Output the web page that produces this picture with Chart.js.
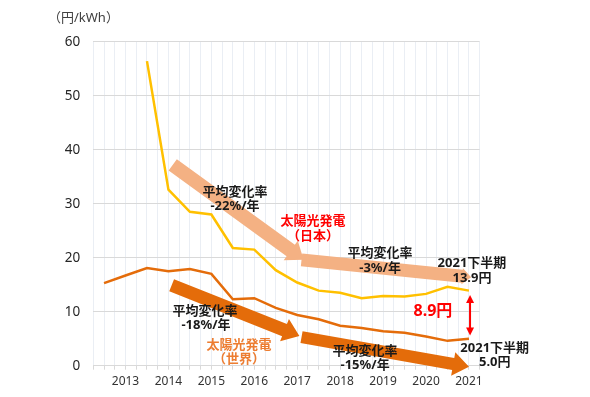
<!DOCTYPE html>
<html>
<head>
<meta charset="utf-8">
<script src="https://cdn.jsdelivr.net/npm/chart.js@4"></script>
<style>
  body { margin: 0; background: #fff; }
</style>
</head>
<body>
<canvas id="chart" width="590" height="397"></canvas>
<script>
// half-year periods, 2013 first half .. 2021 second half
const periods = [
  "2013上", "2013下", "2014上", "2014下", "2015上", "2015下",
  "2016上", "2016下", "2017上", "2017下", "2018上", "2018下",
  "2019上", "2019下", "2020上", "2020下", "2021上", "2021下"
];
// year label is shown under the second-half point
const tickLabels = [
  "", "2013", "", "2014", "", "2015", "", "2016", "", "2017",
  "", "2018", "", "2019", "", "2020", "", "2021"
];
const yTicks = [0, 10, 20, 30, 40, 50, 60];

// 円/kWh
const japan = [
  null, null, 56.4, 32.6, 28.5, 28.0, 21.8, 21.5, 17.7, 15.4,
  13.9, 13.5, 12.5, 12.9, 12.8, 13.3, 14.6, 13.9
];
const world = [
  15.3, 16.7, 18.1, 17.5, 17.9, 17.0, 12.3, 12.5, 10.7, 9.4,
  8.6, 7.4, 7.0, 6.4, 6.1, 5.4, 4.6, 5.0
];

// annotation arrows, in axis units (x = period index, y = 円/kWh)
const trendArrows = [
  { from: [3.2, 37.2], to: [9.3, 19.6], color: "#F4B183", w: 14, hw: 24, hl: 16 },
  { from: [9.2, 19.6], to: [17.1, 16.4], color: "#F4B183", w: 13, hw: 16, hl: 9 },
  { from: [3.15, 14.9], to: [9.1, 5.5], color: "#E46C0A", w: 13, hw: 24, hl: 16 },
  { from: [9.2, 5.3], to: [17.0, -0.2], color: "#E46C0A", w: 12, hw: 24, hl: 16 }
];
const gapArrow = { x: 17.05, from: 13.1, to: 5.6 };

const notes = [
  { x: 6.1, y: 32.2, text: "平均変化率", color: "#1a1a1a" },
  { x: 6.1, y: 29.5, text: "-22%/年", color: "#1a1a1a" },
  { x: 9.73, y: 26.7, text: "太陽光発電", color: "#FF0000" },
  { x: 9.73, y: 24.0, text: "（日本）", color: "#FF0000" },
  { x: 12.86, y: 20.8, text: "平均変化率", color: "#1a1a1a" },
  { x: 12.86, y: 18.0, text: "-3%/年", color: "#1a1a1a" },
  { x: 17.14, y: 19.0, text: "2021下半期", color: "#1a1a1a" },
  { x: 17.14, y: 16.2, text: "13.9円", color: "#1a1a1a" },
  { x: 15.32, y: 10.0, text: "8.9円", color: "#FF0000", size: 16 },
  { x: 4.7, y: 10.0, text: "平均変化率", color: "#1a1a1a" },
  { x: 4.75, y: 7.4, text: "-18%/年", color: "#1a1a1a" },
  { x: 6.29, y: 3.7, text: "太陽光発電", color: "#ED7D31" },
  { x: 6.29, y: 1.2, text: "（世界）", color: "#ED7D31" },
  { x: 12.16, y: 2.6, text: "平均変化率", color: "#1a1a1a" },
  { x: 12.16, y: 0.1, text: "-15%/年", color: "#1a1a1a" },
  { x: 18.2, y: 3.3, text: "2021下半期", color: "#1a1a1a" },
  { x: 18.2, y: 0.7, text: "5.0円", color: "#1a1a1a" }
];

const jpFont = '"Noto Sans", "Noto Sans CJK JP", sans-serif';

function blockArrow(ctx, x1, y1, x2, y2, w, hw, hl, color) {
  const len = Math.hypot(x2 - x1, y2 - y1);
  const ux = (x2 - x1) / len, uy = (y2 - y1) / len;
  const px = -uy, py = ux;
  const bx = x2 - ux * hl, by = y2 - uy * hl;
  ctx.beginPath();
  ctx.moveTo(x1 + px * w / 2, y1 + py * w / 2);
  ctx.lineTo(bx + px * w / 2, by + py * w / 2);
  ctx.lineTo(bx + px * hw / 2, by + py * hw / 2);
  ctx.lineTo(x2, y2);
  ctx.lineTo(bx - px * hw / 2, by - py * hw / 2);
  ctx.lineTo(bx - px * w / 2, by - py * w / 2);
  ctx.lineTo(x1 - px * w / 2, y1 - py * w / 2);
  ctx.closePath();
  ctx.fillStyle = color;
  ctx.fill();
}

const annotations = {
  id: "annotations",
  beforeDatasetsDraw(chart) {
    const { ctx, scales: { x, y } } = chart;
    ctx.save();
    trendArrows.forEach((a) => {
      blockArrow(ctx,
        x.getPixelForValue(a.from[0]), y.getPixelForValue(a.from[1]),
        x.getPixelForValue(a.to[0]), y.getPixelForValue(a.to[1]),
        a.w, a.hw, a.hl, a.color);
    });
    ctx.restore();
  },
  afterDatasetsDraw(chart) {
    const { ctx, scales: { x, y } } = chart;
    ctx.save();
    // red gap arrow
    const gx = x.getPixelForValue(gapArrow.x);
    const gy1 = y.getPixelForValue(gapArrow.from);
    const gy2 = y.getPixelForValue(gapArrow.to);
    ctx.strokeStyle = "#FF0000";
    ctx.fillStyle = "#FF0000";
    ctx.lineWidth = 2;
    ctx.beginPath();
    ctx.moveTo(gx, gy1 + 6);
    ctx.lineTo(gx, gy2 - 6);
    ctx.stroke();
    ctx.beginPath();
    ctx.moveTo(gx, gy1);
    ctx.lineTo(gx - 4, gy1 + 8);
    ctx.lineTo(gx + 4, gy1 + 8);
    ctx.closePath();
    ctx.fill();
    ctx.beginPath();
    ctx.moveTo(gx, gy2);
    ctx.lineTo(gx - 4, gy2 - 8);
    ctx.lineTo(gx + 4, gy2 - 8);
    ctx.closePath();
    ctx.fill();

    ctx.textAlign = "center";
    ctx.textBaseline = "middle";
    notes.forEach((n) => {
      ctx.font = "bold " + (n.size || 13) + "px " + jpFont;
      ctx.fillStyle = n.color;
      ctx.fillText(n.text, x.getPixelForValue(n.x), y.getPixelForValue(n.y));
    });
    ctx.restore();
  }
};

new Chart(document.getElementById("chart"), {
  type: "line",
  data: {
    datasets: [
      {
        label: "太陽光発電（日本）",
        data: japan.map((v, i) => ({ x: i, y: v })),
        borderColor: "#FFC000",
        borderWidth: 2.5,
        pointRadius: 0,
        tension: 0,
        spanGaps: false
      },
      {
        label: "太陽光発電（世界）",
        data: world.map((v, i) => ({ x: i, y: v })),
        borderColor: "#E46C0A",
        borderWidth: 2.5,
        pointRadius: 0,
        tension: 0
      }
    ]
  },
  options: {
    responsive: false,
    animation: false,
    devicePixelRatio: 1,
    layout: { padding: { left: 48, right: 110.3, top: 0, bottom: 0 } },
    plugins: {
      legend: { display: false },
      tooltip: { enabled: false },
      title: {
        display: true,
        text: "（円/kWh）",
        align: "start",
        color: "#404040",
        font: { family: jpFont, size: 13, weight: "normal" },
        padding: { top: 10.5, bottom: 15.6 }
      }
    },
    scales: {
      x: {
        type: "linear",
        min: -0.5,
        max: 17.5,
        afterFit(scale) { scale.height = 31.3; },
        border: { color: "#D9D9D9" },
        grid: { color: "#EAEEF4", tickColor: "#D9D9D9", tickLength: 4 },
        ticks: {
          stepSize: 0.5,
          autoSkip: false,
          maxRotation: 0,
          padding: 5,
          color: "#333333",
          font: { family: '"Noto Sans", sans-serif', size: 12 },
          callback: (v) => (Number.isInteger(v) && v >= 0 ? tickLabels[v] : "")
        }
      },
      y: {
        min: 0,
        max: 60,
        afterFit(scale) { scale.width = 45.3; },
        afterBuildTicks(scale) { scale.ticks = yTicks.map((v) => ({ value: v })); },
        border: { display: false },
        grid: { color: "#D9D9D9", drawTicks: false },
        ticks: {
          padding: 13,
          color: "#262626",
          font: { family: '"Noto Sans", sans-serif', size: 13.5 }
        }
      }
    }
  },
  plugins: [annotations]
});
</script>
</body>
</html>
